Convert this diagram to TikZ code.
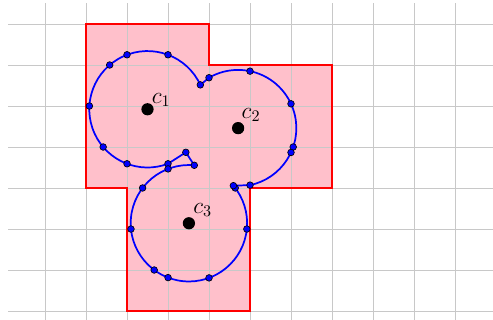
\documentclass[tikz,border=0pt]{standalone}
\definecolor{pinkfill}{RGB}{255,192,203}
\definecolor{gridgray}{RGB}{200,200,200}
\def\crad{1.42}
\begin{document}
\begin{tikzpicture}[
  gridline/.style={draw=gridgray, line width=0.5pt},
  region/.style={draw=red, line width=1.3pt},
  bluecurve/.style={draw=blue, line width=1.2pt},
  bdot/.style={circle, fill=blue, draw=black, line width=0.45pt, inner sep=0pt, minimum size=4.6pt},
  cdot/.style={circle, fill=black, inner sep=0pt, minimum size=8.5pt},
  clabel/.style={anchor=base west, inner sep=0pt, font=\Large, scale=1.12}
]
\useasboundingbox (-2.0976,-0.2195) rectangle (9.9268,7.5854);

% region
\fill[pinkfill] (0,7) -- (3,7) -- (3,6) -- (6,6) -- (6,3) -- (4,3) -- (4,0) -- (1,0) -- (1,3) -- (0,3) -- cycle;
% grid
\draw[gridline] (-1.9,-0.3) grid (10,7.52);
\draw[region] (0,7) -- (3,7) -- (3,6) -- (6,6) -- (6,3) -- (4,3) -- (4,0) -- (1,0) -- (1,3) -- (0,3) -- cycle;

% centres
\coordinate (c1) at (1.5,4.92);
\coordinate (c2) at (3.71,4.46);
\coordinate (c3) at (2.51,2.14);

% vertices of the boundary
\coordinate (V1) at ([shift={(290.6:\crad)}]c1);
\coordinate (V2) at (2.435,3.87);
\coordinate (V3) at ([shift={(84.7:\crad)}]c3);
\coordinate (V4) at ([shift={(40.2:\crad)}]c3);
\coordinate (V5) at ([shift={(-78.2:\crad)}]c2);
\coordinate (V6) at ([shift={(120:\crad)}]c2);
\coordinate (V7) at ([shift={(24.8:\crad)}]c1);

\draw[bluecurve] (V3) arc[start angle=84.7, end angle=400.2, radius=\crad]
  -- (V5) arc[start angle=-78.2, end angle=120, radius=\crad]
  -- (V7) arc[start angle=24.8, end angle=290.6, radius=\crad]
  -- (V2) -- cycle;

% dots on circle 1
\foreach \a [count=\i] in {24.8,69.4,110.6,130.5,176.8,220.4,249.4,290.6}
  \node[bdot] (pa\i) at ([shift={(\a:\crad)}]c1) {};
% dots on circle 2
\foreach \a [count=\i] in {120,78.2,24.7,-18.9,-24.7,-78.2}
  \node[bdot] (pb\i) at ([shift={(\a:\crad)}]c2) {};
% dots on circle 3
\foreach \a [count=\i] in {84.7,111.0,142.7,185.7,233.4,249.0,290.2,354.3,37.3,40.2}
  \node[bdot] (pc\i) at ([shift={(\a:\crad)}]c3) {};
\node[bdot] (pv2) at (V2) {};

% centre dots and labels
\node[cdot] (k1) at (c1) {};
\node[cdot] (k2) at (c2) {};
\node[cdot] (k3) at (c3) {};
\node[clabel] (l1) at (1.60,5.066) {$c_1$};
\node[clabel] (l2) at (3.79,4.70) {$c_2$};
\node[clabel] (l3) at (2.61,2.39) {$c_3$};
\end{tikzpicture}
\end{document}
